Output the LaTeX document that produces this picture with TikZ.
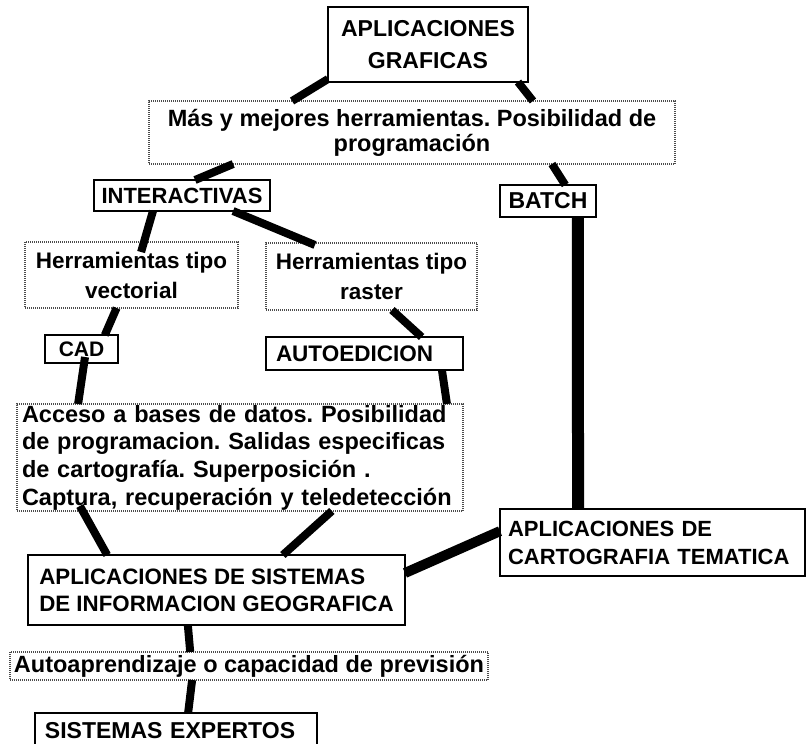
\documentclass[tikz,border=0pt]{standalone}
\usepackage{fontspec}
\setmainfont{Liberation Sans}
\usetikzlibrary{calc}
\newcommand\myfs[2]{\fontsize{#1}{#2}\selectfont\frenchspacing}
\tikzset{
  solidbox/.style={draw=black, line width=2.5pt, rectangle, inner sep=0pt, outer sep=0pt},
  dotbox/.style={draw=black!70, line width=2pt, dash pattern=on 1pt off 1pt, rectangle, inner sep=0pt, outer sep=0pt},
  link/.style={line width=8pt, draw=black},
  thicklink/.style={line width=12pt, draw=black},
}
\begin{document}
\begin{tikzpicture}[x=1pt,y=-1pt]
\useasboundingbox (0,0) rectangle (807,744);
\clip (0,0) rectangle (807,744);
\fill[white] (0,0) rectangle (807,744);

\node[solidbox, minimum width=200, minimum height=75, align=center, font=\bfseries\myfs{23}{32}] (apgraf) at (428,44.5) {APLICACIONES\\GRAFICAS};
\node[dotbox, minimum width=526, minimum height=63, align=center, font=\bfseries\myfs{23.5}{25}] (mas) at (412,132.5) {Más y mejores herramientas. Posibilidad de\\programación};
\node[solidbox, minimum width=176, minimum height=31, font=\bfseries\myfs{22}{27}] (inter) at (182,195.5) {INTERACTIVAS};
\node[solidbox, minimum width=96, minimum height=32, font=\bfseries\myfs{23}{27}] (batch) at (548,201) {BATCH};
\node[dotbox, minimum width=213, minimum height=66, align=center, font=\bfseries\myfs{22.5}{30}] (vect) at (131.5,275) {Herramientas tipo\\vectorial};
\node[dotbox, minimum width=211, minimum height=67, align=center, font=\bfseries\myfs{22.5}{30}] (raster) at (371.5,276.5) {Herramientas tipo\\raster};
\node[solidbox, minimum width=73, minimum height=28, font=\bfseries\myfs{21}{26}] (cad) at (81.5,349) {CAD};
\node[solidbox, minimum width=197, minimum height=33, inner xsep=10pt, text width=177pt, align=left, font=\bfseries\myfs{22.5}{27}] (autoed) at (364.5,353.5) {AUTOEDICION};
\node[dotbox, minimum width=446, minimum height=107, inner xsep=5pt, text width=436pt, align=left, font=\bfseries\myfs{23.5}{27.7}] (acceso) at (240,457.5) {Acceso a bases de datos. Posibilidad\\de programacion. Salidas especificas\\de cartografía. Superposición .\\Captura, recuperación y teledetección};
\node[solidbox, minimum width=305, minimum height=67, inner xsep=8pt, text width=289pt, align=left, font=\bfseries\myfs{22}{28}] (carto) at (652.5,542.5) {APLICACIONES DE\\CARTOGRAFIA TEMATICA};
\node[solidbox, minimum width=377, minimum height=70, align=left, font=\bfseries\myfs{22.3}{27}] (sig) at (216.5,590) {APLICACIONES DE SISTEMAS\\DE INFORMACION GEOGRAFICA};
\node[dotbox, minimum width=478, minimum height=28, align=center, font=\bfseries\myfs{23.5}{27}] (autoapr) at (249,666) {Autoaprendizaje o capacidad de previsión};
\node[solidbox, minimum width=282, minimum height=40, inner xsep=10pt, text width=262pt, text depth=6pt, align=left, font=\bfseries\myfs{23}{27}] (expertos) at (176,733) {SISTEMAS EXPERTOS};

\draw[link] ($(apgraf.south west)+(0,-3)$) -- ($(mas.north west)!0.272!(mas.north east)$);
\draw[link] ($(apgraf.south west)!0.95!(apgraf.south east)$) -- ($(mas.north west)!0.73!(mas.north east)$);
\draw[link] ($(mas.south west)!0.16!(mas.south east)$) -- ($(inter.north west)!0.574!(inter.north east)$);
\draw[link] ($(mas.south west)!0.766!(mas.south east)$) -- ($(batch.north west)!0.68!(batch.north east)$);
\draw[link] ($(inter.south west)!0.335!(inter.south east)$) -- ($(vect.north west)!0.545!(vect.north east)+(0,10)$);
\draw[link] ($(inter.south west)!0.79!(inter.south east)$) -- ($(raster.north west)!0.232!(raster.north east)+(0,2)$);
\draw[thicklink] ($(batch.south west)!0.81!(batch.south east)$) -- ($(carto.north west)!0.256!(carto.north east)$);
\draw[link] ($(vect.south west)!0.43!(vect.south east)$) -- ($(cad.north west)!0.82!(cad.north east)$);
\draw[link] ($(raster.south west)!0.597!(raster.south east)$) -- ($(autoed.north west)!0.79!(autoed.north east)$);
\draw[link] ($(cad.center)+(3.5,8)$) -- ($(acceso.north west)!0.137!(acceso.north east)$);
\draw[link] ($(autoed.south west)!0.893!(autoed.south east)$) -- ($(acceso.north west)!0.964!(acceso.north east)$);
\draw[link] ($(acceso.south west)!0.141!(acceso.south east)+(0,-5)$) -- ($(sig.north west)!0.21!(sig.north east)$);
\draw[link] ($(acceso.south west)!0.706!(acceso.south east)$) -- ($(sig.north west)!0.676!(sig.north east)$);
\draw[link, line width=10pt] ($(carto.north west)!0.33!(carto.south west)$) -- ($(sig.north east)!0.257!(sig.south east)$);
\draw[link] ($(sig.south west)!0.424!(sig.south east)$) -- ($(autoapr.north west)!0.377!(autoapr.north east)$);
\draw[link] ($(autoapr.south west)!0.381!(autoapr.south east)$) -- ($(expertos.north west)!0.543!(expertos.north east)$);
\end{tikzpicture}
\end{document}
